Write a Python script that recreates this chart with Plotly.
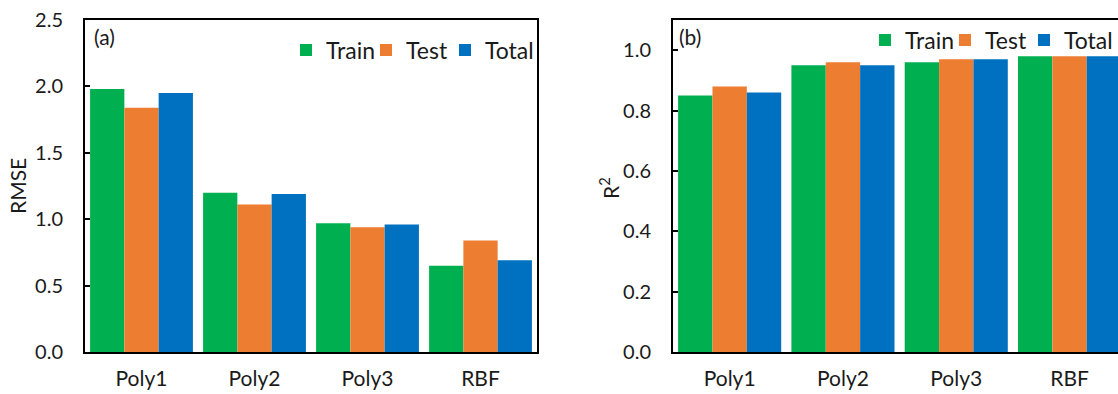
import plotly.graph_objects as go

categories = ["Poly1", "Poly2", "Poly3", "RBF"]
series_names = ["Train", "Test", "Total"]
colors = ["#00B050", "#ED7D31", "#0070C0"]

rmse_train = [1.98, 1.20, 0.97, 0.65]
rmse_test = [1.84, 1.11, 0.94, 0.84]
rmse_total = [1.95, 1.19, 0.96, 0.69]

r2_train = [0.85, 0.95, 0.96, 0.98]
r2_test = [0.88, 0.96, 0.97, 0.98]
r2_total = [0.86, 0.95, 0.97, 0.98]

rmse_ticks = [0.0, 0.5, 1.0, 1.5, 2.0, 2.5]
r2_ticks = [0.0, 0.2, 0.4, 0.6, 0.8, 1.0]

FONT = "Lato"
TXT = "#1a1a1a"
W, H = 1118, 394
T, B = 20, 42
PH = H - T - B

legend_widths = [35, 34, 50]

fig = go.Figure()
for name, vals, col, lw in zip(series_names, [rmse_train, rmse_test, rmse_total], colors, legend_widths):
    fig.add_trace(go.Bar(x=categories, y=vals, name=name, marker=dict(color=col, line=dict(width=0)),
                         xaxis="x", yaxis="y", legend="legend", legendwidth=lw))
for name, vals, col, lw in zip(series_names, [r2_train, r2_test, r2_total], colors, legend_widths):
    fig.add_trace(go.Bar(x=categories, y=vals, name=name, marker=dict(color=col, line=dict(width=0)),
                         xaxis="x2", yaxis="y2", legend="legend2", legendwidth=lw))

axis_common = dict(showline=True, linecolor="black", linewidth=2, showgrid=False, zeroline=False)
xt = dict(ticks="", mirror=True, ticklabelstandoff=7, tickfont=dict(size=21, color=TXT), **axis_common)
yt = dict(ticks="inside", ticklen=5, tickwidth=1.5, tickcolor="black", ticklabelstandoff=16,
          tickfont=dict(size=20, color=TXT), **axis_common)


def py(pix):
    return (H - B - pix) / PH


def px(pix):
    return pix / W


fig.update_layout(
    width=W, height=H,
    margin=dict(l=0, r=0, t=T, b=B, autoexpand=False),
    paper_bgcolor="white", plot_bgcolor="white",
    font=dict(family=FONT, size=20, color=TXT),
    barmode="group", bargap=0.09, bargroupgap=0,
    xaxis=dict(domain=[px(85), px(537)], anchor="y", type="category", range=[-0.5, 3.5], **xt),
    yaxis=dict(domain=[0, 1], anchor="x", range=[0, 2.5], tickvals=rmse_ticks,
               ticktext=[f"{v:.1f}" for v in rmse_ticks], mirror=True, **yt),
    xaxis2=dict(domain=[px(673), 1.0], anchor="y2", type="category",
                range=[-0.5, -0.5 + (W - 673) / 113.3], **xt),
    yaxis2=dict(domain=[0, 1], anchor="x2", range=[0, 1.1], tickvals=r2_ticks,
                ticktext=[f"{v:.1f}" for v in r2_ticks], mirror=False, **yt),
    legend=dict(orientation="h", x=px(286), xanchor="left", y=py(50), yanchor="middle",
                font=dict(size=23, color=TXT), bgcolor="rgba(0,0,0,0)", itemwidth=30,
                borderwidth=0),
    legend2=dict(orientation="h", x=px(865), xanchor="left", y=py(40), yanchor="middle",
                 font=dict(size=23, color=TXT), bgcolor="rgba(0,0,0,0)", itemwidth=30,
                 borderwidth=0),
)
# panel labels
fig.add_annotation(text="(a)", x=px(92), xref="paper", y=py(37), yref="paper", showarrow=False,
                   xanchor="left", yanchor="middle", font=dict(size=21, color=TXT, family=FONT))
fig.add_annotation(text="(b)", x=px(677), xref="paper", y=py(37), yref="paper", showarrow=False,
                   xanchor="left", yanchor="middle", font=dict(size=21, color=TXT, family=FONT))
# y-axis titles
fig.add_annotation(text="RMSE", x=px(17), xref="paper", y=py(186), yref="paper", showarrow=False,
                   textangle=-90, xanchor="center", yanchor="middle",
                   font=dict(size=21, color=TXT, family=FONT))
fig.add_annotation(text="R<sup>2</sup>", x=px(609), xref="paper", y=py(188), yref="paper",
                   showarrow=False, textangle=-90, xanchor="center", yanchor="middle",
                   font=dict(size=21, color=TXT, family=FONT))

fig.write_html("out.html", config={"displayModeBar": False},
               post_script="document.body.style.margin='0';document.body.style.overflow='hidden';")
